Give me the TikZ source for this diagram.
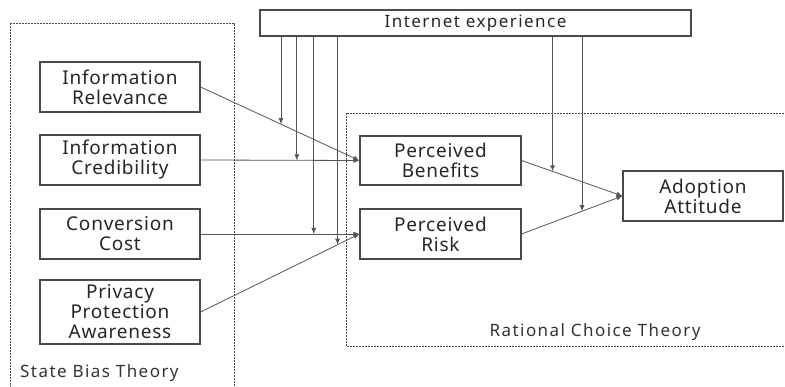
\documentclass[tikz,border=0pt]{standalone}
\usepackage{fontspec}
\setmainfont{Noto Sans}
\newfontfamily\boxfont[LetterSpace=4]{Noto Sans}
\newfontfamily\labfont[LetterSpace=8.5]{Noto Sans}
\usetikzlibrary{arrows.meta,calc}
\definecolor{boxc}{HTML}{4A4A4A}
\definecolor{linec}{HTML}{555555}
\begin{document}
\begin{tikzpicture}[x=1pt,y=-1pt,
  box/.style={draw=boxc,line width=1.2pt,minimum width=160pt,minimum height=50pt,inner sep=0pt,align=center,font=\boxfont\fontsize{19}{20}\selectfont,text=black!85},
  conn/.style={draw=linec,line width=0.8pt,-{Latex[length=6pt,width=5pt]}},
  theory/.style={draw=boxc,line width=0.8pt,dash pattern=on 2pt off 1pt},
  tlabel/.style={font=\labfont\fontsize{17}{18}\selectfont,text=black!80,inner sep=0pt}
]
\useasboundingbox (0,0) rectangle (785,387);
\clip (0,0) rectangle (785,387);
% theory frames
\draw[theory] (10,23) rectangle (234,400);
\draw[theory] (346,113) rectangle (800,346);
\node[tlabel,anchor=west] (sbt) at (20,373) {State Bias Theory};
\node[tlabel] (rct) at (595,332) {Rational Choice Theory};
% boxes
\node[box,minimum width=431pt,minimum height=26pt,font=\labfont\fontsize{17}{18}\selectfont] (ie) at (475.5,23) {Internet experience};
\node[box] (ir) at (120,87) {Information\\Relevance};
\node[box] (ic) at (120,160) {Information\\Credibility};
\node[box] (cc) at (120,234) {Conversion\\Cost};
\node[box,minimum height=64pt] (pp) at (120,312) {Privacy\\Protection\\Awareness};
\node[box,minimum width=161pt,minimum height=49pt] (pb) at (440.5,160.5) {Perceived\\Benefits};
\node[box,minimum width=161pt] (pr) at (440.5,234) {Perceived\\Risk};
\node[box] (aa) at (703,196) {Adoption\\Attitude};
% main paths
\draw[conn] (ir.east) -- (pb.west);
\draw[conn] (ic.east) -- (pb.west);
\draw[conn] (cc.east) -- (pr.west);
\draw[conn] (pp.east) -- (pr.west);
\draw[conn] (pb.east) -- (aa.west);
\draw[conn] (pr.east) -- (aa.west);
% moderation
\coordinate (m1) at ($(ir.east)!0.506!(pb.west)$);
\coordinate (m2) at ($(ic.east)!0.606!(pb.west)$);
\coordinate (m3) at ($(cc.east)!0.7125!(pr.west)$);
\coordinate (m4) at ($(pp.east)!0.8625!(pr.west)$);
\coordinate (m5) at ($(pb.east)!0.307!(aa.west)$);
\coordinate (m6) at ($(pr.east)!0.6!(aa.west)$);
\foreach \m in {m1,m2,m3,m4,m5,m6}
  \draw[conn] (\m |- ie.south) -- (\m);
\end{tikzpicture}
\end{document}
